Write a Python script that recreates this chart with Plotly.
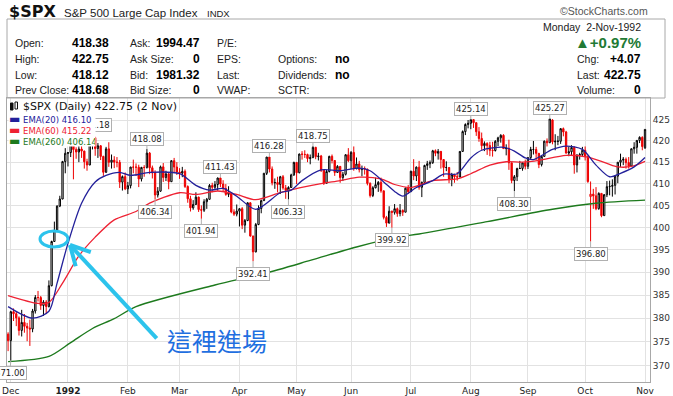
import math
import plotly.graph_objects as go

# ---------------- data ----------------
open_ = [
    376.60, 375.22, 381.40, 380.96, 380.07, 377.39, 379.10, 378.26, 377.90, 377.70,
    381.55, 384.47, 384.46, 382.74, 383.48, 382.52, 387.04, 396.82, 399.33, 404.84,
    406.46, 415.14, 417.03, 417.26, 419.34, 417.96, 417.40, 418.10, 417.61, 415.10,
    414.34, 420.44, 420.77, 418.21, 418.86, 416.36, 412.64, 418.13, 414.96, 415.48,
    414.99, 414.96, 410.34, 411.62, 408.79, 409.53, 413.85, 413.84, 413.82, 411.09,
    413.77, 413.76, 417.13, 413.69, 412.48, 407.38, 408.26, 413.90, 411.43, 412.27,
    410.45, 415.35, 413.86, 412.70, 412.45, 412.85, 409.33, 406.51, 404.44, 405.21,
    406.89, 404.03, 403.89, 405.84, 406.39, 409.58, 409.15, 409.80, 411.30, 409.91,
    408.88, 407.52, 407.86, 403.50, 403.00, 403.69, 404.23, 400.50, 401.55, 405.59,
    398.06, 394.50, 400.64, 404.29, 406.08, 412.39, 416.20, 413.40, 410.18, 410.26,
    409.81, 411.60, 409.02, 408.45, 409.11, 412.02, 414.95, 412.53, 416.91, 416.84,
    416.79, 415.85, 416.05, 418.49, 416.29, 416.45, 413.14, 410.09, 412.81, 416.37,
    415.39, 412.60, 414.02, 411.41, 412.17, 416.74, 415.35, 417.30, 413.50, 414.59,
    413.26, 413.48, 413.36, 410.06, 407.25, 409.05, 409.76, 410.29, 408.33, 402.26,
    400.96, 403.67, 403.40, 404.24, 403.12, 403.83, 403.45, 408.94, 408.14, 412.88,
    411.77, 413.84, 409.16, 410.28, 414.23, 414.62, 414.87, 417.68, 417.10, 417.54,
    415.62, 413.75, 413.76, 410.93, 412.08, 411.60, 411.54, 417.52, 422.23, 423.92,
    424.21, 425.09, 424.36, 422.19, 420.59, 418.88, 419.42, 418.90, 417.78, 417.74,
    419.91, 420.74, 421.34, 418.19, 418.26, 414.85, 410.72, 411.61, 413.51, 413.53,
    414.84, 414.03, 416.07, 417.98, 417.98, 417.08, 414.44, 416.36, 419.95, 419.58,
    425.00, 419.77, 419.92, 419.93, 422.93, 422.14, 417.14, 417.44, 418.47, 414.35,
    416.62, 416.80, 417.80, 416.29, 407.00, 407.57, 407.18, 404.25, 407.75, 402.66,
    407.44, 409.30, 409.37, 409.60, 411.73, 414.98, 415.48, 415.67, 414.90, 414.10,
    418.16, 418.49, 420.13, 420.86, 418.38,
]
high = [
    377.00, 381.60, 382.10, 381.50, 380.40, 381.80, 380.90, 379.00, 379.70, 382.00,
    385.00, 385.90, 384.80, 383.90, 383.90, 388.20, 397.00, 401.30, 405.00, 407.20,
    415.30, 418.30, 417.30, 419.80, 419.40, 418.50, 420.20, 419.80, 417.70, 415.80,
    421.18, 420.90, 421.00, 419.50, 419.00, 416.50, 418.60, 419.70, 416.80, 416.40,
    416.20, 415.50, 411.90, 412.60, 410.40, 413.90, 415.60, 414.70, 414.40, 413.90,
    414.30, 418.08, 417.40, 414.20, 413.10, 409.20, 414.20, 414.80, 413.00, 412.60,
    415.50, 416.00, 415.00, 413.60, 413.90, 413.30, 409.60, 407.20, 406.20, 408.00,
    407.00, 405.00, 406.40, 406.70, 409.90, 410.20, 410.60, 411.40, 411.43, 410.80,
    409.90, 409.40, 408.00, 404.10, 405.20, 404.40, 404.60, 401.90, 405.70, 405.70,
    398.10, 401.00, 405.00, 406.30, 412.50, 416.20, 416.28, 414.00, 411.20, 411.60,
    411.80, 412.00, 409.70, 409.40, 412.30, 415.10, 415.00, 417.00, 417.60, 417.80,
    417.00, 416.80, 418.75, 418.60, 417.20, 416.70, 413.20, 413.20, 416.50, 416.80,
    415.50, 414.30, 414.10, 412.70, 416.90, 418.30, 417.60, 418.70, 416.10, 415.30,
    414.20, 414.00, 413.50, 410.30, 409.40, 411.40, 410.60, 411.40, 408.40, 402.60,
    404.80, 403.80, 405.30, 404.50, 405.30, 404.10, 409.10, 409.70, 413.00, 415.70,
    414.00, 415.30, 410.50, 414.40, 415.30, 415.40, 417.90, 418.00, 418.10, 417.60,
    415.70, 415.20, 413.80, 412.50, 412.30, 412.70, 417.60, 422.50, 424.20, 425.00,
    425.14, 425.10, 424.40, 423.30, 422.00, 419.90, 419.70, 419.80, 419.80, 420.20,
    421.00, 421.60, 421.60, 419.20, 420.30, 414.90, 412.00, 413.70, 415.30, 415.00,
    415.60, 416.20, 418.60, 420.00, 418.60, 417.10, 416.60, 420.10, 420.60, 425.27,
    425.20, 421.60, 421.20, 423.00, 423.20, 422.40, 418.60, 419.00, 418.70, 416.90,
    417.20, 418.60, 418.70, 416.60, 410.50, 408.80, 409.20, 408.00, 407.80, 407.60,
    410.60, 410.70, 411.00, 411.80, 415.00, 417.00, 416.20, 416.10, 416.20, 418.20,
    419.70, 420.20, 421.10, 421.10, 422.75,
]
low = [
    373.00, 371.00, 379.40, 378.30, 376.30, 376.10, 376.90, 375.10, 374.10, 377.00,
    381.00, 383.60, 381.80, 380.50, 380.90, 382.30, 386.90, 396.80, 399.30, 404.60,
    406.40, 412.40, 414.00, 416.20, 411.00, 415.80, 415.00, 416.00, 413.50, 413.00,
    414.30, 418.00, 416.50, 416.00, 415.50, 411.80, 412.50, 413.90, 413.50, 413.60,
    413.80, 409.00, 408.40, 408.50, 407.60, 408.90, 412.40, 411.80, 409.20, 410.50,
    411.60, 413.50, 412.20, 411.20, 406.34, 406.80, 408.10, 410.40, 410.60, 408.70,
    410.40, 412.60, 412.00, 411.10, 411.50, 409.00, 405.60, 403.60, 404.00, 405.10,
    403.50, 401.94, 403.50, 404.20, 406.30, 408.00, 408.80, 408.40, 409.20, 408.30,
    407.20, 406.90, 403.20, 402.60, 402.50, 400.20, 399.60, 398.80, 401.40, 397.90,
    392.41, 394.40, 400.50, 403.20, 406.00, 412.00, 412.60, 409.60, 408.80, 408.00,
    407.60, 408.60, 406.50, 406.33, 409.00, 411.80, 409.90, 412.40, 415.60, 416.00,
    415.00, 414.50, 416.00, 415.70, 415.40, 412.70, 409.70, 410.00, 412.60, 414.70,
    411.80, 412.50, 410.20, 410.60, 411.90, 415.00, 413.40, 413.00, 413.30, 412.60,
    411.70, 412.10, 409.60, 406.80, 406.90, 408.90, 408.10, 407.90, 401.80, 400.10,
    400.90, 399.92, 402.90, 402.40, 402.50, 402.60, 403.40, 407.60, 408.10, 410.80,
    410.60, 408.60, 406.90, 410.20, 413.20, 413.60, 414.60, 416.40, 415.60, 413.50,
    411.60, 412.90, 410.10, 409.40, 410.20, 410.70, 411.50, 417.50, 421.40, 423.00,
    422.80, 423.10, 421.20, 419.80, 417.90, 417.60, 416.70, 416.40, 416.30, 417.50,
    418.80, 419.60, 418.10, 416.60, 413.20, 410.10, 408.30, 410.60, 413.40, 413.00,
    413.30, 413.40, 415.50, 416.80, 415.50, 413.60, 414.00, 416.30, 418.70, 419.50,
    419.20, 417.80, 419.00, 419.30, 421.10, 417.00, 416.40, 416.70, 412.30, 412.60,
    415.60, 416.20, 415.40, 410.20, 396.80, 404.20, 403.90, 404.00, 402.30, 402.60,
    406.90, 407.30, 407.00, 407.50, 410.10, 413.90, 414.30, 413.50, 413.50, 414.00,
    417.00, 417.00, 419.50, 417.80, 418.12,
]
close = [
    375.22, 381.40, 380.96, 380.07, 377.39, 379.10, 378.26, 377.90, 377.70, 381.55,
    384.47, 384.46, 382.74, 383.48, 382.52, 387.04, 396.82, 399.33, 404.84, 406.46,
    415.14, 417.09, 417.26, 419.34, 417.96, 417.40, 418.10, 417.61, 415.10, 414.34,
    420.44, 420.77, 418.21, 418.86, 416.36, 412.64, 418.13, 414.96, 415.48, 414.99,
    414.96, 410.34, 411.62, 408.79, 409.53, 413.85, 413.84, 413.82, 411.09, 413.77,
    413.76, 417.13, 413.69, 412.48, 407.38, 408.26, 413.90, 411.43, 412.27, 410.45,
    415.35, 413.86, 412.70, 412.45, 412.85, 409.33, 406.51, 404.44, 405.21, 406.89,
    404.03, 403.89, 405.84, 406.39, 409.58, 409.15, 409.80, 411.30, 409.91, 408.88,
    407.52, 407.86, 403.50, 403.00, 403.69, 404.23, 400.50, 401.55, 405.59, 398.06,
    394.50, 400.64, 404.29, 406.08, 412.39, 416.20, 413.40, 410.18, 410.26, 409.81,
    411.60, 409.02, 408.45, 409.11, 412.02, 414.95, 412.53, 416.91, 416.84, 416.79,
    415.85, 416.05, 418.49, 416.29, 416.45, 413.14, 410.09, 412.81, 416.37, 415.39,
    412.60, 414.02, 411.41, 412.17, 416.74, 415.35, 417.30, 413.50, 414.59, 413.26,
    413.48, 413.36, 410.06, 407.25, 409.05, 409.76, 410.29, 408.33, 402.26, 400.96,
    403.67, 403.40, 404.24, 403.12, 403.83, 403.45, 408.94, 408.14, 412.88, 411.77,
    413.84, 409.16, 410.28, 414.23, 414.62, 414.87, 417.68, 417.10, 417.54, 415.62,
    413.75, 413.76, 410.93, 412.08, 411.60, 411.54, 417.52, 422.23, 423.92, 424.21,
    425.09, 424.36, 422.19, 420.59, 418.88, 419.42, 418.90, 417.78, 417.74, 419.91,
    420.74, 421.34, 418.19, 418.26, 414.85, 410.72, 411.61, 413.51, 413.53, 414.84,
    414.03, 416.07, 417.98, 417.98, 417.08, 414.44, 416.36, 419.95, 419.58, 425.27,
    419.77, 419.92, 419.93, 422.93, 422.14, 417.14, 417.44, 418.47, 414.35, 416.62,
    416.80, 417.80, 416.29, 410.47, 407.57, 407.18, 404.25, 407.75, 402.66, 407.44,
    409.30, 409.37, 409.60, 411.73, 414.98, 415.48, 415.67, 414.90, 414.10, 418.16,
    418.49, 420.13, 420.86, 418.68, 422.75,
]

# moving averages (trading-day index, value)
ema20_idx = [0, 9, 15, 18, 22, 27, 32, 36, 41, 45, 52, 63, 69, 74, 79, 84, 91, 100, 104, 108,
             115, 122, 129, 133, 138, 142, 145, 150, 156, 160, 165, 170, 174, 182, 186, 190,
             193, 200, 205, 211, 216, 221, 225, 230, 234]
ema20_val = [382.5, 380.0, 381.5, 387.6, 396.4, 405.5, 410.4, 411.9, 412.6, 411.9, 412.6, 412.3,
             409.6, 408.5, 408.9, 407.1, 404.1, 407.9, 408.5, 410.7, 413.2, 413.0, 413.6, 413.0,
             410.4, 408.2, 407.1, 409.1, 410.7, 412.2, 412.3, 416.0, 417.8, 418.5, 417.6, 416.0,
             415.6, 418.0, 418.8, 418.0, 414.3, 411.6, 412.4, 413.9, 416.1]
ema60_idx = [0, 11, 15, 20, 26, 32, 39, 47, 52, 63, 69, 77, 84, 91, 100, 107, 115, 122, 129,
             137, 142, 148, 156, 165, 170, 177, 183, 189, 195, 205, 213, 220, 224, 229, 234]
ema60_val = [384.9, 383.2, 383.4, 387.6, 393.6, 397.8, 401.7, 403.6, 405.5, 407.9, 407.5, 408.3,
             407.5, 406.3, 407.9, 409.0, 410.0, 410.7, 411.5, 411.1, 409.8, 409.1, 410.7, 411.1,
             412.3, 414.3, 415.1, 415.0, 415.4, 416.6, 416.2, 414.7, 413.9, 414.0, 415.2]
ema260_idx = [0, 15, 23, 31, 39, 47, 76, 94, 111, 128, 143, 151, 176, 200, 216, 234]
ema260_val = [370.8, 371.9, 374.8, 377.8, 379.9, 382.5, 387.2, 389.7, 392.6, 395.6, 397.8, 398.5,
              401.3, 404.1, 405.5, 406.2]

month_idx = [1, 22, 44, 63, 85, 106, 126, 148, 170, 191, 212, 234]
month_lbl = ['Dec', '<b>1992</b>', 'Feb', 'Mar', 'Apr', 'May', 'Jun', 'Jul', 'Aug', 'Sep', 'Oct', 'Nov']
price_ticks = [370, 375, 380, 385, 390, 395, 400, 405, 410, 415, 420, 425]

label_idx = [30, 51, 54, 71, 78, 90, 96, 103, 112, 141, 170, 186, 199, 214, 1]
label_val = [421.18, 418.08, 406.34, 401.94, 411.43, 392.41, 416.28, 406.33, 418.75, 399.92,
             425.14, 408.30, 425.27, 396.80, 371.00]

# ---------------- layout helpers ----------------
W, H = 673, 396
PL, PR, PT, PB = 7, 650, 98, 382


def px(x):
    return (x - PL) / (PR - PL)


def py(y):
    return (PB - y) / (PB - PT)


n = len(close)
xs = list(range(n))
black_i = [i for i in xs if close[i] >= (close[i - 1] if i > 0 else open_[i])]
black_set = set(black_i)
red_i = [i for i in xs if i not in black_set]


def candles(idx, col):
    return go.Candlestick(
        x=idx,
        open=[open_[i] for i in idx], high=[high[i] for i in idx],
        low=[low[i] for i in idx], close=[close[i] for i in idx],
        increasing=dict(line=dict(color=col, width=1), fillcolor='white'),
        decreasing=dict(line=dict(color=col, width=1), fillcolor=col),
        whiskerwidth=0, showlegend=False, hoverinfo='skip')


fig = go.Figure()
fig.add_trace(candles(black_i, '#000000'))
fig.add_trace(candles(red_i, '#ee0000'))
fig.add_trace(go.Scatter(x=ema260_idx, y=ema260_val, mode='lines', showlegend=False,
                         line=dict(color='#1d7a1d', width=1.4, shape='spline', smoothing=0.8),
                         hoverinfo='skip'))
fig.add_trace(go.Scatter(x=ema60_idx, y=ema60_val, mode='lines', showlegend=False,
                         line=dict(color='#ee2233', width=1.3, shape='spline', smoothing=0.8),
                         hoverinfo='skip'))
fig.add_trace(go.Scatter(x=ema20_idx, y=ema20_val, mode='lines', showlegend=False,
                         line=dict(color='#23209a', width=1.3, shape='spline', smoothing=0.8),
                         hoverinfo='skip'))

ann = []
# price labels
for i, v in zip(label_idx, label_val):
    above = abs(v - high[i]) < 1e-9
    shift = -1 if i == 1 else (5 if i == 30 else 0)
    ann.append(dict(
        x=i, y=math.log10(v), xref='x', yref='y', text=f'{v:.2f}',
        showarrow=True, arrowhead=0, arrowwidth=1, arrowcolor='#b0b0b0', standoff=0,
        ax=shift, ay=(-10.5 if above else 12.5),
        font=dict(family='DejaVu Sans', size=8.5, color='#222'),
        bgcolor='white', bordercolor='#b0b0b0', borderwidth=1, borderpad=1))


def txt(x, y, s, size=11, anchor='left', color='#222', family='Liberation Sans', **kw):
    d = dict(x=px(x), y=py(y), xref='paper', yref='paper', text=s, showarrow=False,
             xanchor=anchor, yanchor='middle',
             font=dict(family=family, size=size, color=color))
    d.update(kw)
    ann.append(d)


# legend block
txt(20.5, 106.5, '$SPX (Daily) 422.75 (2 Nov)', size=11, family='DejaVu Sans', color='#111')
leg = [('EMA(20) 416.10', '#23209a', 118), ('EMA(60) 415.22', '#ee2233', 129),
       ('EMA(260) 406.14', '#1d7a1d', 140)]
for s, c, yy in leg:
    txt(8, yy, '<span style="font-size:12px">\u25ac</span> ' + s, size=8.5, color=c,
        family='DejaVu Sans', bgcolor='white', width=86, height=11, align='left', borderpad=0)

# header
txt(7, 12, '<b>$SPX</b>', size=16, family='DejaVu Sans', color='#111')
txt(62, 13, 'S&amp;P 500 Large Cap Index', size=11.5)
txt(205, 13.5, 'INDX', size=9.5)
txt(650, 11, '\u00a9StockCharts.com', size=10.5, anchor='right', color='#555')

rows_y = [43, 59, 75, 90]
for s, yy in zip(['Open:', 'High:', 'Low:', 'Prev Close:'], rows_y):
    txt(13, yy, s, size=10.5)
for s, yy in zip(['418.38', '422.75', '418.12', '418.68'], rows_y):
    txt(111, yy, '<b>' + s + '</b>', size=12, anchor='right', color='#000')
for s, yy in zip(['Ask:', 'Ask Size:', 'Bid:', 'Bid Size:'], rows_y):
    txt(128, yy, s, size=10.5)
for s, yy in zip(['1994.47', '0', '1981.32', '0'], rows_y):
    txt(202, yy, '<b>' + s + '</b>', size=12, anchor='right', color='#000')
for s, yy in zip(['P/E:', 'EPS:', 'Last:', 'VWAP:'], rows_y):
    txt(215, yy, s, size=10.5)
for s, yy in zip(['Options:', 'Dividends:', 'SCTR:'], rows_y[1:]):
    txt(276, yy, s, size=10.5)
for s, yy in zip(['no', 'no'], rows_y[1:3]):
    txt(333, yy, '<b>' + s + '</b>', size=12, color='#000')

txt(643, 27, 'Monday\u00a0\u00a02-Nov-1992', size=10.5, anchor='right')
txt(643, 43, '<b>\u25b2+0.97%</b>', size=15, anchor='right', color='#217a34')
for s, v, yy in [('Chg:', '+4.07', 59), ('Last:', '422.75', 75), ('Volume:', '0', 90)]:
    txt(575, yy, s, size=10.5)
    txt(643, yy, '<b>' + v + '</b>', size=12, anchor='right', color='#000')

# chinese note
txt(216.5, 340, '這裡進場', size=25, anchor='center', color='#1f6fe0',
    family='Noto Sans CJK TC')

CY = '#2cc3ec'
shapes = [
    dict(type='rect', xref='paper', yref='paper', x0=px(7), x1=px(665), y0=py(98), y1=py(19),
         line=dict(color='#a8a8a8', width=1), layer='above'),
    dict(type='circle', xref='paper', yref='paper', x0=px(40), x1=px(68), y0=py(247), y1=py(231),
         line=dict(color=CY, width=3), layer='above'),
    dict(type='line', xref='paper', yref='paper', x0=px(156.7), y0=py(338.3), x1=px(70), y1=py(245),
         line=dict(color=CY, width=4), layer='above'),
    dict(type='line', xref='paper', yref='paper', x0=px(70), y0=py(245), x1=px(75.7), y1=py(266.3),
         line=dict(color=CY, width=4), layer='above'),
    dict(type='line', xref='paper', yref='paper', x0=px(70), y0=py(245), x1=px(90.8), y1=py(252.2),
         line=dict(color=CY, width=4), layer='above'),
    # tiny candle icon before legend title
    dict(type='rect', xref='paper', yref='paper', x0=px(10.5), x1=px(13), y0=py(110), y1=py(103),
         line=dict(color='#111', width=1), fillcolor='#111', layer='above'),
    dict(type='rect', xref='paper', yref='paper', x0=px(15), x1=px(17.5), y0=py(109), y1=py(102),
         line=dict(color='#111', width=1), fillcolor='white', layer='above'),
]

lo = math.log10(425) - (PB - 120) / 4078.0
hi = math.log10(425) + (120 - PT) / 4078.0

fig.update_layout(
    width=W, height=H,
    margin=dict(l=PL, r=W - PR, t=PT, b=H - PB, autoexpand=False),
    paper_bgcolor='white', plot_bgcolor='white',
    font=dict(family='Liberation Sans', size=11, color='#222'),
    showlegend=False,
    annotations=ann,
    shapes=shapes,
    xaxis=dict(range=[-0.4, 235.83], tickmode='array', tickvals=month_idx, ticktext=month_lbl,
               showgrid=True, gridcolor='#e2e2e2', gridwidth=1, zeroline=False,
               showline=True, linecolor='#a8a8a8', linewidth=1, mirror=True, ticks='',
               tickfont=dict(family='DejaVu Sans', size=9, color='#222'), automargin=False,
               rangeslider=dict(visible=False), fixedrange=True),
    yaxis=dict(type='log', range=[lo, hi], side='right', tickmode='array',
               tickvals=price_ticks, ticktext=[str(t) for t in price_ticks],
               showgrid=True, gridcolor='#e2e2e2', gridwidth=1, zeroline=False,
               showline=True, linecolor='#a8a8a8', linewidth=1, mirror=True, ticks='',
               tickfont=dict(family='DejaVu Sans', size=9, color='#333'), automargin=False,
               fixedrange=True),
)

fig.write_html('out.html', config={'displayModeBar': False},
               post_script="document.body.style.margin='0';document.body.style.padding='0';")
